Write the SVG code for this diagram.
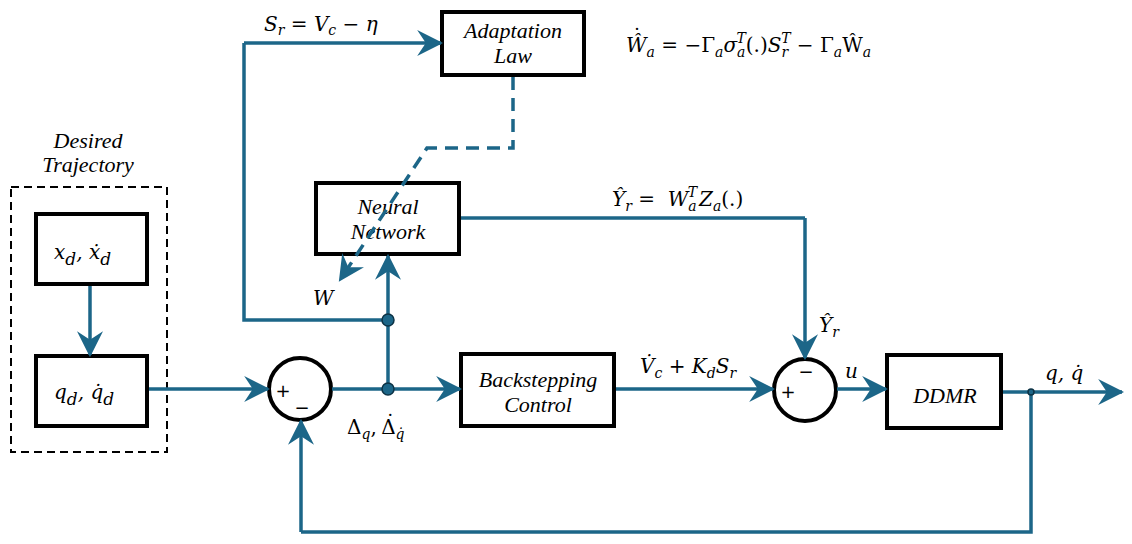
<svg xmlns="http://www.w3.org/2000/svg" width="1132" height="544" viewBox="0 0 1132 544">
<defs>
<marker id="ahb" viewBox="0 0 12 12" refX="11" refY="6" markerWidth="26" markerHeight="26" markerUnits="userSpaceOnUse" orient="auto">
<path d="M0,0 L12,6 L0,12 L4,6 z" fill="#1c6688"/>
</marker>
</defs>
<style>
.box{fill:#fff;stroke:#000;stroke-width:4}
.lbl{font-family:"Liberation Serif","DejaVu Serif",serif;font-style:italic;font-size:22px;fill:#000;text-anchor:middle}
.m{font-family:"DejaVu Serif","Liberation Serif",serif;font-style:italic;font-size:20px;fill:#000}
.u{font-style:normal}
.s{font-size:14px}
.w{fill:none;stroke:#1c6688;stroke-width:3.5}
.a{marker-end:url(#ahb)}
.dot{fill:#1c6688;stroke:#0d3346;stroke-width:1.5}
.sum{fill:#fff;stroke:#000;stroke-width:4}
.sg{font-family:"DejaVu Sans",sans-serif;font-size:18px;fill:#000;text-anchor:middle}
</style>
<rect width="1132" height="544" fill="#fff"/>

<g id="desired-trajectory">
<rect x="11" y="187" width="156" height="265" fill="none" stroke="#000" stroke-width="2" stroke-dasharray="8,5"/>
<text class="lbl" x="88" y="148" font-size="21">Desired</text>
<text class="lbl" x="88" y="172" font-size="21">Trajectory</text>
</g>

<g id="xd">
<rect class="box" x="36" y="214" width="111" height="70"/>
<text class="m" x="54" y="259" font-size="24">x<tspan font-size="17" dy="6">d</tspan><tspan dy="-6">, ẋ</tspan><tspan font-size="17" dy="6">d</tspan></text>
</g>

<g id="qd">
<rect class="box" x="36" y="356" width="111" height="70"/>
<text class="m" x="54" y="399" font-size="24">q<tspan font-size="17" dy="6">d</tspan><tspan dy="-6">, q̇</tspan><tspan font-size="17" dy="6">d</tspan></text>
</g>

<g id="sum1">
<circle class="sum" cx="300" cy="389" r="31"/>
<text class="sg" x="283" y="397">+</text>
<text class="sg" x="302" y="414">−</text>
</g>

<g id="adaptation-law">
<rect class="box" x="442" y="12" width="142" height="63"/>
<text class="lbl" x="513" y="38">Adaptation</text>
<text class="lbl" x="513" y="63">Law</text>
</g>

<g id="neural-network">
<rect class="box" x="316" y="183" width="143" height="71"/>
<text class="lbl" x="388" y="214" font-size="21">Neural</text>
<text class="lbl" x="388" y="239" font-size="21">Network</text>
</g>

<g id="backstepping">
<rect class="box" x="461" y="354" width="153" height="72"/>
<text class="lbl" x="538" y="387">Backstepping</text>
<text class="lbl" x="538" y="412">Control</text>
</g>

<g id="sum2">
<circle class="sum" cx="805" cy="390" r="31"/>
<text class="sg" x="788" y="398">+</text>
<text class="sg" x="806" y="378">−</text>
</g>

<g id="ddmr">
<rect class="box" x="887" y="355" width="114" height="73"/>
<text class="lbl" x="945" y="403" font-size="29">DDMR</text>
</g>

<g id="connectors">
<path class="w a" d="M90,286 V355"/>
<path class="w a" d="M149,389 H268"/>
<path class="w a" d="M332,389 H460"/>
<path class="w a" d="M388,389 V256"/>
<path class="w" d="M388,320 H244 V43"/>
<path class="w a" d="M244,43 H441"/>
<path class="w a" d="M513,77 V148 H427 L340,280" stroke-dasharray="13,8"/>
<path class="w" d="M461,218 H805"/>
<path class="w a" d="M805,218 V358"/>
<path class="w a" d="M616,389 H773"/>
<path class="w a" d="M837,389 H886"/>
<path class="w a" d="M1003,392 H1122"/>
<path class="w" d="M1031,392 V532 H301"/>
<path class="w a" d="M301,532 V421"/>
<circle class="dot" cx="388" cy="320" r="6"/>
<circle class="dot" cx="388" cy="389" r="6"/>
<circle class="dot" cx="1031" cy="392" r="3"/>
</g>

<g id="labels">
<text class="m" x="264" y="31" font-size="18" xml:space="preserve">S<tspan class="s" dy="4">r</tspan><tspan class="u" dy="-4"> = </tspan>V<tspan class="s" dy="4">c</tspan><tspan class="u" dy="-4"> − </tspan>η</text>
<text class="m" x="620" y="52" font-size="21" xml:space="preserve"><tspan class="u" dx="6" dy="-9">˙</tspan><tspan dx="-16" dy="9">Ŵ</tspan><tspan class="s" dy="5">a</tspan><tspan class="u" dy="-5"> = −Γ</tspan><tspan class="s" dy="5">a</tspan><tspan dy="-5">σ</tspan><tspan class="s" dy="5">a</tspan><tspan class="s" dx="-9" dy="-14">T</tspan><tspan class="u" dy="9">(.)</tspan>S<tspan class="s" dy="5">r</tspan><tspan class="s" dx="-7" dy="-14">T</tspan><tspan class="u" dy="9"> − Γ</tspan><tspan class="s" dy="5">a</tspan><tspan class="u" dy="-5">Ŵ</tspan><tspan class="s" dy="5">a</tspan></text>
<text class="m" x="612" y="206" xml:space="preserve">Ŷ<tspan class="s" dy="5">r</tspan><tspan class="u" dy="-5"> =  </tspan>W<tspan class="s" dy="5">a</tspan><tspan class="s" dx="-9" dy="-14">T</tspan><tspan dx="2" dy="9">Z</tspan><tspan class="s" dy="5">a</tspan><tspan class="u" dy="-5">(.)</tspan></text>
<text class="m" x="819" y="332">Ŷ<tspan class="s" dy="5">r</tspan></text>
<text class="m" x="640" y="373" xml:space="preserve">V̇<tspan class="s" dy="5">c</tspan><tspan class="u" dy="-5"> + </tspan>K<tspan class="s" dy="5">d</tspan><tspan dy="-5">S</tspan><tspan class="s" dy="5">r</tspan></text>
<text class="m" x="845" y="378" font-size="23">u</text>
<text class="m" x="1045" y="380" font-size="23" xml:space="preserve">q, q̇</text>
<text class="m" x="313" y="305" font-size="22">W</text>
<text class="m u" x="347" y="434" font-size="22" xml:space="preserve">Δ<tspan class="s" font-style="italic" font-size="15" dy="5">q</tspan><tspan dy="-5">, </tspan><tspan dx="2" dy="-5">˙</tspan><tspan dx="-14" dy="5">Δ</tspan><tspan class="s" font-style="italic" font-size="15" dy="5">q̇</tspan></text>
</g>
</svg>
